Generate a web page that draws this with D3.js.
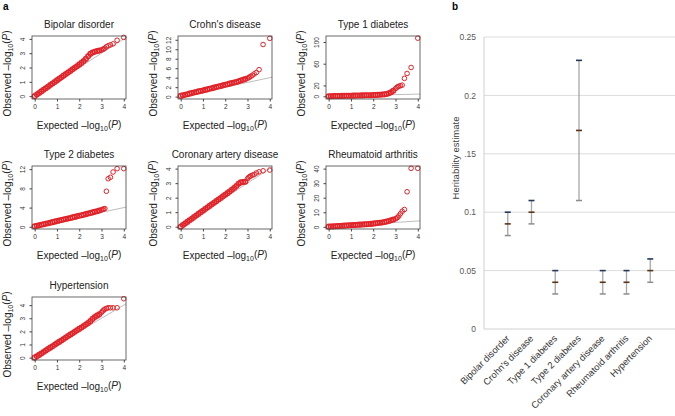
<!DOCTYPE html>
<html><head><meta charset="utf-8">
<script src="https://cdn.jsdelivr.net/npm/d3@7"></script>
<style>body{margin:0;background:#fff}svg{display:block;font-family:"Liberation Sans",Arial,sans-serif}</style>
</head><body><svg id="c" width="675" height="416"></svg>
<script>
// ---------- DATA ----------
const qqTitles = ["Bipolar disorder","Crohn's disease","Type 1 diabetes","Type 2 diabetes","Coronary artery disease","Rheumatoid arthritis","Hypertension"];
const expectedX = [0,0.1,0.2,0.3,0.4,0.5,0.6,0.7,0.8,0.9,1.0,1.1,1.2,1.3,1.4,1.5,1.6,1.7,1.8,1.9,
  2.0,2.1,2.2,2.3,2.4,2.5,2.6,2.7,2.8,2.9,3.0,3.05,3.1,3.15,3.22,3.3,3.4,3.52,3.7,4.0];
const bipolarObs = [0,0.11,0.22,0.33,0.44,0.55,0.66,0.77,0.88,0.99,1.1,1.21,1.32,1.43,1.54,1.65,1.76,1.87,1.98,2.09,
  2.2,2.32,2.45,2.6,2.78,2.95,3.05,3.1,3.15,3.18,3.22,3.26,3.3,3.35,3.45,3.52,3.58,3.65,3.9,4.1];
const crohnObs = [0.15,0.27,0.39,0.51,0.63,0.75,0.87,0.99,1.1,1.2,1.3,1.42,1.54,1.66,1.78,1.9,2.02,2.14,2.26,2.38,
  2.5,2.62,2.74,2.86,2.98,3.1,3.25,3.4,3.55,3.7,3.9,4.0,4.15,4.3,4.5,4.8,5.1,5.7,11.0,12.3];
const t1dObs = [0.1,0.2,0.3,0.4,0.5,0.6,0.7,0.8,0.9,1.0,1.1,1.2,1.3,1.4,1.5,1.6,1.7,1.8,1.9,2.0,
  2.2,2.4,2.6,2.9,3.2,3.6,4.2,5.5,7.5,10,14,16,17.5,18.5,19.5,20.5,33,42,53,107];
const t2dObs = [0.1,0.2,0.31,0.42,0.53,0.64,0.75,0.86,0.97,1.08,1.19,1.3,1.41,1.52,1.63,1.74,1.85,1.96,2.07,2.18,
  2.29,2.4,2.52,2.64,2.76,2.88,3.0,3.12,3.25,3.4,3.55,3.62,3.7,3.8,7.4,10.0,10.3,11.4,12.1,12.1];
const cadObs = [0,0.11,0.22,0.33,0.44,0.55,0.66,0.77,0.88,0.99,1.1,1.21,1.32,1.43,1.54,1.65,1.76,1.87,1.98,2.09,
  2.2,2.31,2.42,2.54,2.66,2.8,2.95,3.05,3.08,3.1,3.3,3.4,3.45,3.5,3.55,3.6,3.7,3.78,3.85,3.9];
const raObs = [0.1,0.2,0.3,0.4,0.5,0.6,0.7,0.8,0.9,1.0,1.1,1.2,1.3,1.4,1.5,1.6,1.7,1.8,1.9,2.0,
  2.2,2.4,2.6,2.8,3.0,3.3,3.6,4.0,4.5,5.0,5.5,6.0,6.5,7.5,9.0,10.7,11.9,24.1,40.2,40.2];
const htObs = [0,0.1,0.21,0.32,0.43,0.54,0.65,0.76,0.87,0.98,1.09,1.2,1.31,1.42,1.53,1.64,1.75,1.86,1.97,2.08,
  2.19,2.3,2.41,2.52,2.64,2.78,2.95,3.1,3.2,3.3,3.45,3.55,3.62,3.7,3.75,3.8,3.8,3.8,3.8,4.49];
const qqObserved = [bipolarObs,crohnObs,t1dObs,t2dObs,cadObs,raObs,htObs];
const qqYDomains = [[-0.2,4.2],[-0.5,12.8],[-5,111],[-0.45,12.65],[-0.16,4.18],[-1.5,41.8],[-0.18,4.62]];
const qqYTicks = [[0,1,2,3,4],[0,2,4,6,8,10,12],[0,20,60,100],[0,4,8,12],[0,1,2,3,4],[0,10,20,30,40],[0,1,2,3,4]];
const qqXTicks = [0,1,2,3,4];

const hCats = ["Bipolar disorder","Crohn's disease","Type 1 diabetes","Type 2 diabetes","Coronary artery disease","Rheumatoid arthritis","Hypertension"];
const hEst  = [0.09,0.10,0.04,0.17,0.04,0.04,0.05];
const hLow  = [0.08,0.09,0.03,0.11,0.03,0.03,0.04];
const hHigh = [0.10,0.11,0.05,0.23,0.05,0.05,0.06];
const hTicks = [0,0.05,0.1,0.15,0.2,0.25];
const hTickLabels = ["0","0.05","0.1",".15","0.2","0.25"];

// ---------- DRAW ----------
const svg = d3.select("#c");
svg.append("text").attr("x",3).attr("y",10).attr("font-size",10).attr("font-weight","bold").text("a");
svg.append("text").attr("x",452).attr("y",10).attr("font-size",10).attr("font-weight","bold").text("b");

const colLeft = [32,178,326], rowTop = [36,166,297], boxW = 94, boxH = 63;
const red = "#e0242a";

function logLabel(sel, prefix){
  sel.append("tspan").text(prefix+" \u2013log");
  sel.append("tspan").attr("font-size","0.7em").attr("dy","0.3em").text("10");
  sel.append("tspan").attr("dy","-0.3em").text("(");
  sel.append("tspan").attr("font-style","italic").text("P");
  sel.append("tspan").text(")");
}

qqTitles.forEach((title,i)=>{
  const left = colLeft[i%3], top = rowTop[Math.floor(i/3)];
  const x = d3.scaleLinear().domain([-0.12,4.1]).range([left,left+boxW]);
  const y = d3.scaleLinear().domain(qqYDomains[i]).range([top+boxH,top]);
  const g = svg.append("g");
  const id = "clip"+i;
  g.append("clipPath").attr("id",id).append("rect").attr("x",left).attr("y",top).attr("width",boxW).attr("height",boxH);
  g.append("line").attr("clip-path",`url(#${id})`)
    .attr("x1",x(0)).attr("y1",y(0)).attr("x2",x(4.1)).attr("y2",y(4.1))
    .attr("stroke","#bdbdbd").attr("stroke-width",1);
  const pts = expectedX.map((e,k)=>[e,qqObserved[i][k]]);
  g.append("g").selectAll("circle").data(pts).join("circle")
    .attr("cx",d=>x(d[0])).attr("cy",d=>y(d[1])).attr("r",2.3)
    .attr("fill","none").attr("stroke",red).attr("stroke-width",d=>d[0]<2.95?1.5:1.0);
  g.append("rect").attr("x",left).attr("y",top).attr("width",boxW).attr("height",boxH)
    .attr("fill","none").attr("stroke","#444").attr("stroke-width",0.8);
  const xa = g.append("g").attr("transform",`translate(0,${top+boxH})`)
    .call(d3.axisBottom(x).tickValues(qqXTicks).tickSize(2.5).tickPadding(3).tickFormat(d3.format("d")));
  xa.select(".domain").remove();
  xa.selectAll("line").attr("stroke","#444");
  xa.selectAll("text").attr("font-size",6.5).attr("fill","#333").attr("font-family","Liberation Sans, Arial, sans-serif");
  const ya = g.append("g").attr("transform",`translate(${left},0)`)
    .call(d3.axisLeft(y).tickValues(qqYTicks[i]).tickSize(2.5).tickFormat(d3.format("d")));
  ya.select(".domain").remove();
  ya.selectAll("line").attr("stroke","#444");
  ya.selectAll("text").attr("font-size",6.5).attr("fill","#333").attr("font-family","Liberation Sans, Arial, sans-serif")
    .attr("text-anchor","middle").attr("x",null).attr("dy",null)
    .attr("transform","translate(-7,0) rotate(-90)").attr("y",0);
  g.append("text").attr("x",left+boxW/2).attr("y",top-8.5).attr("text-anchor","middle")
    .attr("font-size",10).attr("fill","#222").text(title);
  g.append("text").attr("x",left+boxW/2).attr("y",top+boxH+29.5).attr("text-anchor","middle")
    .attr("font-size",10).attr("fill","#222").call(s=>logLabel(s,"Expected"));
  g.append("text").attr("transform",`translate(${left-21},${top+boxH/2+6}) rotate(-90)`)
    .attr("text-anchor","middle").attr("font-size",10).attr("fill","#222").call(s=>logLabel(s,"Observed"));
});

// ---------- panel b ----------
const bx = d3.scalePoint().domain(hCats).range([484,674]).padding(1);
const by = d3.scaleLinear().domain([0,0.25]).range([329,37]);
const gb = svg.append("g");
gb.selectAll("line.grid").data(hTicks.slice(1)).join("line").attr("class","grid")
  .attr("x1",484).attr("x2",675).attr("y1",d=>by(d)).attr("y2",d=>by(d))
  .attr("stroke","#dcdcdc").attr("stroke-width",1);
gb.append("line").attr("x1",484).attr("x2",675).attr("y1",by(0)).attr("y2",by(0)).attr("stroke","#d0d0d0");
gb.append("line").attr("x1",484).attr("x2",484).attr("y1",by(0.25)).attr("y2",by(0)).attr("stroke","#d0d0d0");
const yax = gb.append("g").attr("transform","translate(484,0)")
  .call(d3.axisLeft(by).tickValues(hTicks).tickSize(0).tickPadding(8).tickFormat((d,k)=>hTickLabels[k]));
yax.select(".domain").remove();
yax.selectAll("text").attr("font-size",8.5).attr("fill","#595959").attr("font-family","Liberation Sans, Arial, sans-serif");
gb.append("text").attr("transform","translate(459,158) rotate(-90)").attr("text-anchor","middle")
  .attr("font-size",9.5).attr("fill","#404040").text("Heritability estimate");
const xax = gb.append("g").attr("transform",`translate(0,${by(0)})`)
  .call(d3.axisBottom(bx).tickSize(0).tickFormat(d=>d));
xax.select(".domain").remove();
xax.selectAll("text").attr("font-size",9.3).attr("fill","#333").attr("font-family","Liberation Sans, Arial, sans-serif")
  .attr("text-anchor","end").attr("dy",null).attr("y",0)
  .attr("transform","translate(2,10) rotate(-45)");
const eb = gb.selectAll("g.eb").data(hCats).join("g").attr("class","eb");
eb.append("line").attr("x1",d=>bx(d)).attr("x2",d=>bx(d))
  .attr("y1",(d,k)=>by(hLow[k])).attr("y2",(d,k)=>by(hHigh[k])).attr("stroke","#a6a6a6").attr("stroke-width",1.3);
eb.append("line").attr("x1",d=>bx(d)-3).attr("x2",d=>bx(d)+3)
  .attr("y1",(d,k)=>by(hLow[k])).attr("y2",(d,k)=>by(hLow[k])).attr("stroke","#8c8c8c").attr("stroke-width",1.5);
eb.append("line").attr("x1",d=>bx(d)-3).attr("x2",d=>bx(d)+3)
  .attr("y1",(d,k)=>by(hHigh[k])).attr("y2",(d,k)=>by(hHigh[k])).attr("stroke","#24395a").attr("stroke-width",1.6);
eb.append("line").attr("x1",d=>bx(d)-3).attr("x2",d=>bx(d)+3)
  .attr("y1",(d,k)=>by(hEst[k])).attr("y2",(d,k)=>by(hEst[k])).attr("stroke","#5a3418").attr("stroke-width",1.6);
</script></body></html>
